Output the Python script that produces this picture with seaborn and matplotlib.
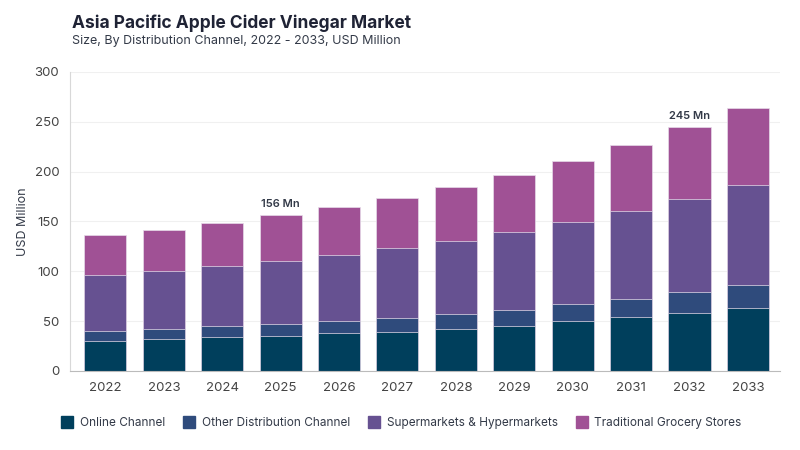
import numpy as np
import pandas as pd
import matplotlib.pyplot as plt
import seaborn as sns
from matplotlib.lines import Line2D

years = ['2022', '2023', '2024', '2025', '2026', '2027', '2028', '2029', '2030', '2031', '2032', '2033']
online = [30.3, 31.8, 33.8, 35.4, 37.8, 39.4, 42.4, 45.4, 49.8, 53.8, 57.8, 62.9]
other = [10.1, 10.6, 11.6, 12.0, 12.6, 14.0, 15.1, 16.1, 17.1, 18.7, 21.1, 23.0]
supermarkets = [56.1, 58.1, 60.2, 63.2, 66.2, 70.0, 72.9, 78.2, 82.6, 88.0, 93.9, 101.0]
traditional = [39.6, 41.1, 42.4, 45.4, 47.4, 49.6, 54.2, 57.3, 61.5, 66.2, 72.2, 77.1]
series_names = ['Online Channel', 'Other Distribution Channel', 'Supermarkets & Hypermarkets', 'Traditional Grocery Stores']
colors = ['#003f5c', '#2f4b7c', '#665191', '#a05195']
labels = {'2025': '156 Mn', '2032': '245 Mn'}

sns.set_style('white')
plt.rcParams['font.family'] = ['Inter', 'DejaVu Sans']

df = pd.DataFrame({'Year': years, series_names[0]: online, series_names[1]: other,
                   series_names[2]: supermarkets, series_names[3]: traditional})
cum = df[series_names].cumsum(axis=1)

fig = plt.figure(figsize=(8, 4.5), dpi=100)
ax = fig.add_axes([0.088, 0.176, 0.887, 0.664])

# draw from the top layer down so each lower layer covers the one above
for name, c in reversed(list(zip(series_names, colors))):
    sns.barplot(x=df['Year'], y=cum[name], color=c, width=0.72, ax=ax,
                edgecolor='#e6dcea', linewidth=0.5, saturation=1)

totals = cum[series_names[-1]]
for i, y in enumerate(years):
    if y in labels:
        ax.text(i, totals[i] + 6, labels[y], ha='center', va='bottom',
                fontsize=8, fontweight='semibold', color='#333a48')

ax.set_ylim(0, 300)
ax.set_xlim(-0.6, 11.55)
ax.set_yticks([0, 50, 100, 150, 200, 250, 300])
ax.yaxis.grid(True, color='#f0f0f0', linewidth=0.8)
ax.set_axisbelow(True)
ax.set_xlabel('')
ax.set_ylabel('USD Million', fontsize=9, color='#333a48')
ax.tick_params(axis='both', length=0, labelsize=9.5, labelcolor='#444444', pad=8)
for s in ['top', 'right']:
    ax.spines[s].set_visible(False)
ax.spines['left'].set_color('#d8d8d8')
ax.spines['bottom'].set_color('#bbbbbb')

fig.text(0.09, 0.948, 'Asia Pacific Apple Cider Vinegar Market', fontsize=12.5,
         fontweight='bold', color='#1f2335', va='center')
fig.text(0.09, 0.908, 'Size, By Distribution Channel, 2022 - 2033, USD Million',
         fontsize=9, color='#333a48', va='center')

handles = [Line2D([0], [0], marker='s', linestyle='', markersize=9,
                  markerfacecolor=c, markeredgecolor=c) for c in colors]
fig.legend(handles, series_names, loc='center left', bbox_to_anchor=(0.06, 0.06),
           ncol=4, frameon=False, fontsize=8.5, handletextpad=0.3, columnspacing=1.3,
           handlelength=1.5, labelcolor='#333a48')

fig.savefig('out.png', dpi=100)
